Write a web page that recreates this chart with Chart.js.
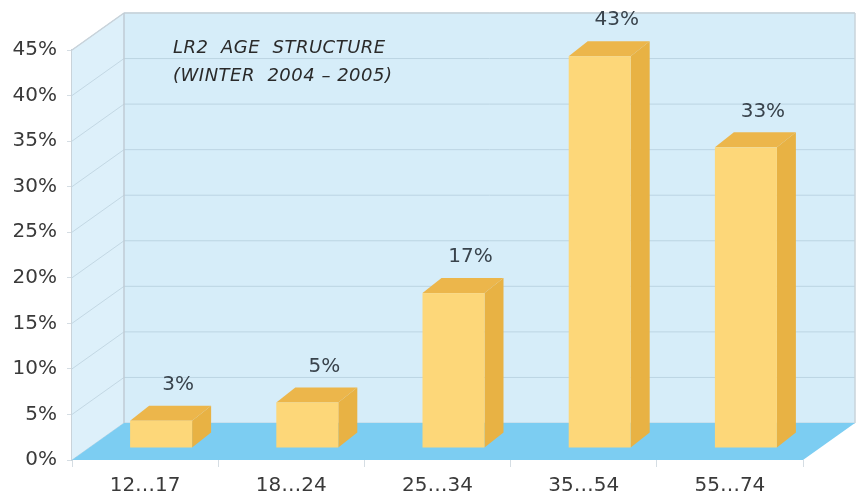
<!DOCTYPE html>
<html lang="en">
<head>
    <meta charset="UTF-8">
    <title>LR2 Age Structure</title>
    <style>
        * { margin: 0; padding: 0; }
        body { background: #fff; }
        canvas { display: block; }
    </style>
</head>
<body>
    <canvas id="chart" width="857" height="501"></canvas>
    <script src="https://cdn.jsdelivr.net/npm/chart.js@4/dist/chart.umd.min.js"></script>
<script>
    // dados
    var faixas = ['12…17', '18…24', '25…34', '35…54', '55…74'];
    var percentuais = [3, 5, 17, 43, 33];
    var titulo = ['LR2  AGE  STRUCTURE', '(WINTER  2004 – 2005)'];

    // profundidade da "caixa" 3d e das barras
    var DX = 52, DY = -37;      // parede do fundo
    var BX = 16, BY = -12;      // plano da frente das barras
    var BDX = 19, BDY = -15;    // espessura das barras
    var FONTE = 'DejaVu Sans';

    function poly(ctx, pts, fill, stroke) {
        ctx.beginPath();
        ctx.moveTo(pts[0][0], pts[0][1]);
        for (var i = 1; i < pts.length; i++) ctx.lineTo(pts[i][0], pts[i][1]);
        ctx.closePath();
        if (fill) { ctx.fillStyle = fill; ctx.fill(); }
        if (stroke) { ctx.strokeStyle = stroke; ctx.lineWidth = 1; ctx.stroke(); }
    }

    function linha(ctx, x0, y0, x1, y1, cor, w) {
        ctx.beginPath();
        ctx.moveTo(x0, y0);
        ctx.lineTo(x1, y1);
        ctx.strokeStyle = cor;
        ctx.lineWidth = w || 1;
        ctx.stroke();
    }

    var caixa3d = {
        id: 'caixa3d',
        beforeDatasetsDraw: function (chart) {
            var ctx = chart.ctx, a = chart.chartArea, y = chart.scales.y;
            ctx.save();
            // parede lateral e fundo
            poly(ctx, [[a.left, a.top], [a.left + DX, a.top + DY], [a.left + DX, a.bottom + DY], [a.left, a.bottom]], '#ddf0fa');
            poly(ctx, [[a.left + DX, a.top + DY], [a.right + DX, a.top + DY], [a.right + DX, a.bottom + DY], [a.left + DX, a.bottom + DY]], '#d6edf9');

            // linhas de grade
            y.ticks.forEach(function (t) {
                var py = y.getPixelForValue(t.value);
                linha(ctx, a.left, py, a.left + DX, py + DY, '#c3d8e4');
                linha(ctx, a.left + DX, py + DY, a.right + DX, py + DY, '#bcd5e3');
            });

            // bordas
            linha(ctx, a.left + DX, a.top + DY, a.right + DX, a.top + DY, '#c9d3da', 1.5);
            linha(ctx, a.left, a.top, a.left + DX, a.top + DY, '#c9d3da', 1.5);
            linha(ctx, a.left + DX, a.top + DY, a.left + DX, a.bottom + DY, '#bfcbd4', 1.5);
            linha(ctx, a.right + DX, a.top + DY, a.right + DX, a.bottom + DY, '#c9d3da', 1.5);

            // chao
            poly(ctx, [[a.left, a.bottom], [a.left + DX, a.bottom + DY], [a.right + DX, a.bottom + DY], [a.right, a.bottom]], '#7ccdf2');

            // titulo
            ctx.fillStyle = '#2a2a2a';
            ctx.font = 'italic 18px "' + FONTE + '"';
            ctx.letterSpacing = '0.5px';
            ctx.textAlign = 'left';
            ctx.textBaseline = 'alphabetic';
            ctx.fillText(titulo[0], a.left + 101, a.top + 3);
            ctx.fillText(titulo[1], a.left + 101, a.top + 31);
            ctx.restore();
        },
        afterDatasetsDraw: function (chart) {
            var ctx = chart.ctx;
            var meta = chart.getDatasetMeta(0);
            ctx.save();
            meta.data.forEach(function (bar, i) {
                var x0 = bar.x - bar.width / 2 + BX, x1 = bar.x + bar.width / 2 + BX;
                var yt = bar.y + BY, yb = bar.base + BY;
                // lado
                poly(ctx, [[x1, yt], [x1 + BDX, yt + BDY], [x1 + BDX, yb + BDY], [x1, yb]], '#e8b244');
                // topo
                poly(ctx, [[x0, yt], [x0 + BDX, yt + BDY], [x1 + BDX, yt + BDY], [x1, yt]], '#ecb64b');
                // frente
                ctx.fillStyle = '#fdd779';
                ctx.fillRect(x0, yt, x1 - x0, yb - yt);

                // rotulo
                ctx.fillStyle = '#39434c';
                ctx.font = '20px "' + FONTE + '"';
                ctx.textAlign = 'center';
                ctx.textBaseline = 'middle';
                ctx.fillText(percentuais[i] + '%', bar.x + 33, yt - 36);
            });
            ctx.restore();
        }
    };

    var ctx = document.getElementById('chart').getContext('2d');
    var myChart = new Chart(ctx, {
        type: 'bar',
        data: {
            labels: faixas,
            datasets: [{
                data: percentuais,
                backgroundColor: 'rgba(0,0,0,0)',
                borderWidth: 0,
                barPercentage: 0.424,
                categoryPercentage: 1
            }]
        },
        plugins: [caixa3d],
        options: {
            responsive: false,
            animation: false,
            devicePixelRatio: 1,
            layout: { padding: { top: 50, right: 54, left: 0, bottom: 0 } },
            scales: {
                x: {
                    afterFit: function (s) { s.height = 41; },
                    grid: { offset: true, drawOnChartArea: false, tickLength: 7, color: '#d5dde3' },
                    border: { display: false },
                    ticks: { color: '#3a3a3a', padding: 7, font: { family: FONTE, size: 20 } }
                },
                y: {
                    min: 0,
                    max: 45,
                    afterFit: function (s) { s.width = 72; },
                    grid: { drawOnChartArea: false, tickLength: 5, color: '#d5dde3' },
                    border: { display: true, color: '#c9d3da', width: 1.5 },
                    ticks: {
                        stepSize: 5,
                        padding: 10,
                        color: '#3a3a3a',
                        font: { family: FONTE, size: 20 },
                        callback: function (v) { return v + '%'; }
                    }
                }
            },
            plugins: {
                legend: { display: false },
                tooltip: { enabled: false }
            }
        }
    });
</script>
</body>
</html>
